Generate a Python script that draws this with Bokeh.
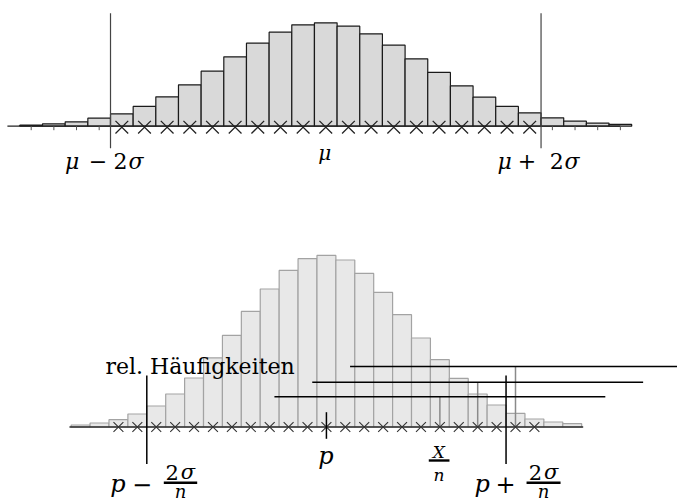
from bokeh.plotting import figure
from bokeh.models import Range1d, Label
from bokeh.embed import file_html
from bokeh.resources import INLINE

# ---------------- data ----------------
# upper diagram: distribution of X (absolute frequencies)
top_k = list(range(27))
top_p = [0.0015, 0.0036, 0.0066, 0.0120, 0.0186, 0.0296, 0.0441, 0.0621, 0.0825,
         0.1041, 0.1245, 0.1410, 0.1521, 0.1551, 0.1500, 0.1386, 0.1215, 0.1011,
         0.0806, 0.0606, 0.0435, 0.0296, 0.0201, 0.0126, 0.0075, 0.0045, 0.0026]
top_mu = 13
top_lo, top_hi = 3.5, 22.5          # mu - 2 sigma, mu + 2 sigma
top_cross = list(range(4, 23))
top_ticks = [0, 1, 2, 3, 23, 24, 25, 26]

# lower diagram: relative frequencies X/n
bot_j = list(range(27))
bot_p = [0.0018, 0.0036, 0.0066, 0.0117, 0.0189, 0.0297, 0.0441, 0.0623, 0.0824,
         0.1040, 0.1242, 0.1409, 0.1515, 0.1544, 0.1503, 0.1382, 0.1211, 0.1011,
         0.0801, 0.0606, 0.0437, 0.0297, 0.0198, 0.0122, 0.0072, 0.0045, 0.0030]
bot_pc = 13
bot_lo, bot_hi = 3.5, 22.5          # p - 2sigma/n, p + 2sigma/n
bot_cross = list(range(2, 25))
iv_center = [19, 21, 23]            # observed X/n
iv_height = [0.0272, 0.0403, 0.0545]
iv_half = 8.75

# ---------------- figure ----------------
W, H = 677, 504
TPX, TPY = 22.66, 0.0015     # top: px per unit x, units per px y
BPX, BPY = 18.908, 0.0009    # bottom
TX0, TBASE = -1.3548, 125.7
BX0, BBASE = -4.2374, 426.5

p = figure(width=W, height=H, output_backend="svg", toolbar_location=None,
           x_axis_type=None, y_axis_type=None, min_border=0,
           x_range=Range1d(TX0, TX0 + W / TPX),
           y_range=Range1d(-(H - TBASE) * TPY, TBASE * TPY))
p.extra_x_ranges = {"b": Range1d(BX0, BX0 + W / BPX)}
p.extra_y_ranges = {"b": Range1d(-(H - BBASE) * BPY, BBASE * BPY)}
p.grid.visible = False
p.outline_line_color = None
p.background_fill_color = "white"
p.border_fill_color = "white"

# ----- top -----
p.vbar(x=top_k, top=top_p, bottom=0, width=1, fill_color="#d9d9d9",
       line_color="#1a1a1a", line_width=1.2)
p.line(x=[top_k[0] - 1.05, top_k[-1]], y=[0, 0], line_color="#222", line_width=1.2)
p.segment(x0=top_ticks, y0=[0] * len(top_ticks), x1=top_ticks,
          y1=[-4 * TPY] * len(top_ticks), line_color="#555", line_width=1)
p.segment(x0=[top_lo, top_hi], y0=[-22 * TPY] * 2, x1=[top_lo, top_hi],
          y1=[113 * TPY] * 2, line_color="#444", line_width=1.2)
p.scatter(x=top_cross, y=[-1 * TPY] * len(top_cross), marker="x", size=18,
          line_color="#222", line_width=1.3)

# ----- bottom -----
R = dict(x_range_name="b", y_range_name="b")
p.vbar(x=bot_j, top=bot_p, bottom=0, width=1, fill_color="#e8e8e8",
       line_color="#a3a3a3", line_width=1.2, **R)
p.segment(x0=iv_center, y0=[0] * 3, x1=iv_center, y1=iv_height,
          line_color="#8a8a8a", line_width=1.5, **R)
p.segment(x0=[c - iv_half for c in iv_center], y0=iv_height,
          x1=[c + iv_half for c in iv_center], y1=iv_height,
          line_color="black", line_width=1.5, **R)
p.line(x=[bot_j[0] - 0.59, bot_j[-1] + 0.58], y=[0, 0], line_color="#2b2b2b",
       line_width=1.7, **R)
p.scatter(x=bot_cross, y=[0] * len(bot_cross), marker="x", size=14,
          line_color="#333", line_width=1.1, **R)
p.segment(x0=[bot_pc], y0=[-11.8 * BPY], x1=[bot_pc], y1=[14.8 * BPY],
          line_color="black", line_width=1.5, **R)
p.segment(x0=[bot_lo, bot_hi], y0=[-37 * BPY] * 2, x1=[bot_lo, bot_hi],
          y1=[51.5 * BPY] * 2, line_color="black", line_width=1.5, **R)

# fraction bars (offsets in px from their anchors)
fr = [(bot_lo, 17, 50.4, -55.8), (bot_hi, 20.5, 54.5, -55.8), (iv_center[0], -11.1, 9.6, -33.5)]
p.segment(x0=[a + o0 / BPX for a, o0, o1, yy in fr], y0=[yy * BPY for a, o0, o1, yy in fr],
          x1=[a + o1 / BPX for a, o0, o1, yy in fr], y1=[yy * BPY for a, o0, o1, yy in fr],
          line_color="black", line_width=2.4, **R)

FONT = "DejaVu Serif"


def lab(x, dx, dy, text, size, italic=False, align="center", bottom=False):
    kw = dict(x_range_name="b", y_range_name="b") if bottom else {}
    p.add_layout(Label(x=x, y=0, x_offset=dx, y_offset=dy + 0.24 * size, text=text,
                       text_font=FONT, text_font_size=f"{size}px",
                       text_font_style="italic" if italic else "normal",
                       text_align=align, text_baseline="alphabetic",
                       text_color="black", **kw))


# top labels
for anchor, parts in [(top_lo, [(-38.4, "μ", True), (-12.5, "−", False), (10, "2", False), (25.5, "σ", True)]),
                      (top_hi, [(-36.5, "μ", True), (-14.2, "+", False), (15.8, "2", False), (31, "σ", True)])]:
    for dx, t, it in parts:
        lab(anchor, dx, -40.3, t, 22, it)
lab(top_mu, -1, -31.3, "μ", 20, True)

# bottom labels
lab(bot_lo, -41.3, 54.8, "rel. Häufigkeiten", 22, align="left", bottom=True)
lab(bot_pc, -0.5, -35, "p", 24, True, bottom=True)
for anchor, sym, dxs in [(bot_lo, "−", (-28.8, -4.8, 25.5, 41.0, 33.7)),
                         (bot_hi, "+", (-23.8, -0.5, 29.5, 45.0, 37.5))]:
    lab(anchor, dxs[0], -62.5, "p", 24, True, bottom=True)
    lab(anchor, dxs[1], -62.5, sym, 24, bottom=True)
    lab(anchor, dxs[2], -50.5, "2", 21, bottom=True)
    lab(anchor, dxs[3], -50.5, "σ", 21, True, bottom=True)
    lab(anchor, dxs[4], -68.5, "n", 18, True, bottom=True)
lab(iv_center[0], -1.1, -29.5, "X", 17, True, bottom=True)
lab(iv_center[0], -1, -51.8, "n", 17, True, bottom=True)

open("out.html", "w").write(file_html(p, INLINE))
